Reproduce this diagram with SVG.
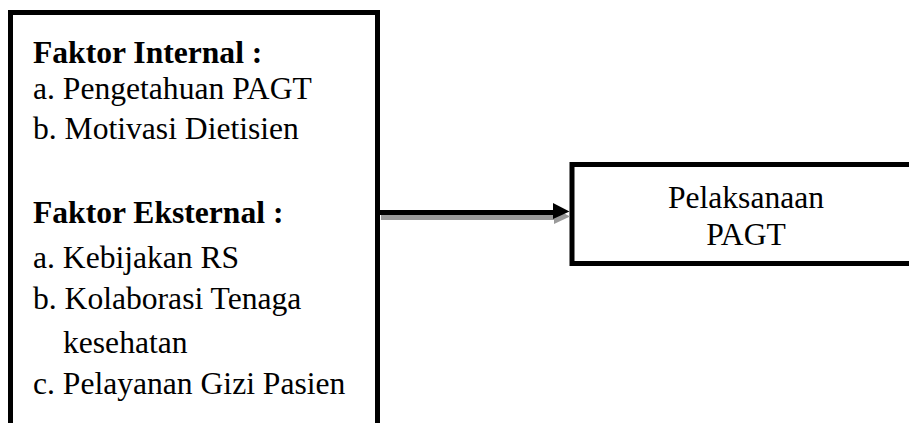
<svg xmlns="http://www.w3.org/2000/svg" width="909" height="423" viewBox="0 0 909 423">
  <style>
    .box { fill: #ffffff; stroke: #000000; stroke-width: 5; }
    .txt { font-family: "Liberation Serif", "Times New Roman", serif; font-size: 31.6px; fill: #000000; }
    .hd { font-weight: bold; }
    .mid { text-anchor: middle; }
  </style>

  <rect x="0" y="0" width="909" height="423" fill="#ffffff"/>

  <!-- Factors box (continues past the lower edge) -->
  <g id="faktor">
    <rect class="box" x="10.5" y="12.5" width="367" height="440"/>
    <text class="txt hd" x="33" y="63">Faktor Internal :</text>
    <text class="txt" x="33" y="99">a. Pengetahuan PAGT</text>
    <text class="txt" x="33" y="139">b. Motivasi Dietisien</text>
    <text class="txt hd" x="33" y="223">Faktor Eksternal :</text>
    <text class="txt" x="33" y="268">a. Kebijakan RS</text>
    <text class="txt" x="33" y="309">b. Kolaborasi Tenaga</text>
    <text class="txt" x="63" y="353">kesehatan</text>
    <text class="txt" x="33" y="394">c. Pelayanan Gizi Pasien</text>
  </g>

  <!-- Outcome box (continues past the right edge) -->
  <g id="pelaksanaan">
    <rect class="box" x="572" y="164.5" width="360" height="99"/>
    <text class="txt mid" x="746" y="208">Pelaksanaan</text>
    <text class="txt mid" x="746" y="245">PAGT</text>
  </g>

  <!-- Connector with drop shadow -->
  <g id="connectors">
    <g transform="translate(1,5)" fill="#9a9a9a">
      <rect x="380" y="210" width="175" height="5"/>
      <polygon points="553,203 569,211.5 553,219"/>
    </g>
    <g fill="#000000">
      <rect x="380" y="210" width="175" height="5"/>
      <polygon points="553,203 569.5,211.5 553,219"/>
    </g>
  </g>
</svg>
